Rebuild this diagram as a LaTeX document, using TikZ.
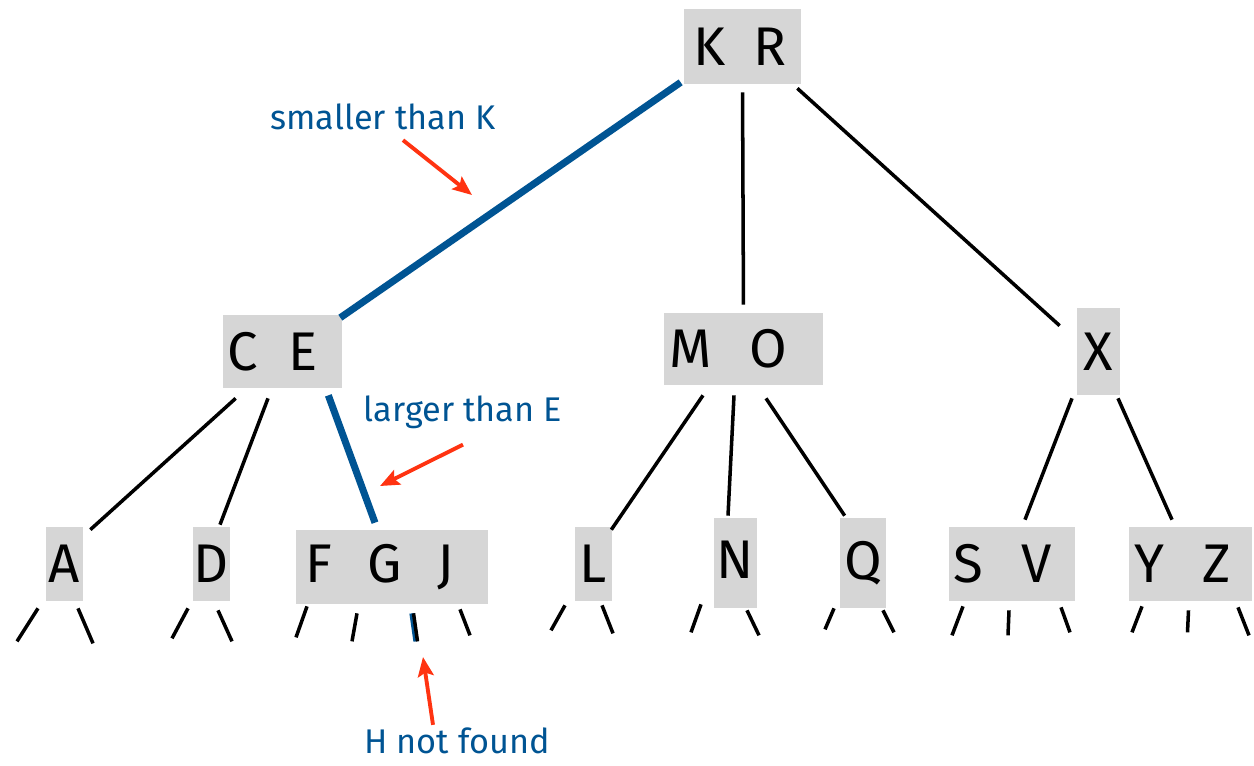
\documentclass[tikz,border=0pt]{standalone}
\usepackage{fontspec}
\setmainfont{Fira Sans}
\usetikzlibrary{calc}
\usetikzlibrary{arrows.meta}
\usepackage{xcolor}
\definecolor{boxgray}{RGB}{214,214,214}
\definecolor{pathblue}{RGB}{0,84,147}
\definecolor{notered}{RGB}{255,51,17}
\newcommand{\trail}[1]{\hspace{#1}\null}
\tikzset{
 keybox/.style={fill=boxgray, inner sep=0pt, font=\fontsize{31}{34}\selectfont},
 leafbox/.style={keybox, minimum width=0.74cm, minimum height=1.48cm},
 link/.style={black, line width=2pt},
 searchlink/.style={pathblue, line width=4pt},
 note/.style={pathblue, inner sep=1pt, font=\fontsize{19.5}{22}\selectfont},
 pointer/.style={notered, line width=2.2pt, -{Stealth[length=11pt,width=9pt,inset=2pt]}}
}

\begin{document}
\begin{tikzpicture}[x=0.02cm, y=-0.02cm]
\useasboundingbox (0,0) rectangle (1254,765);
% root and inner nodes
\node[keybox, minimum width=2.34cm, minimum height=1.5cm] (kr) at (742.5,46.5) {K\hspace{0.5em}R\trail{0.1cm}};
\node[keybox, minimum width=2.38cm, minimum height=1.46cm] (ce) at (282.5,351.5) {C\hspace{0.55em}E\trail{0.4cm}};
\node[keybox, minimum width=3.18cm, minimum height=1.44cm] (mo) at (743.5,349) {M\hspace{0.7em}O\trail{0.6cm}};
\node[keybox, minimum width=0.86cm, minimum height=1.74cm] (x) at (1098.5,351.5) {X};
% leaves
\node[leafbox] (a) at (64.5,564) {A};
\node[leafbox] (d) at (211.5,564) {D};
\node[keybox, minimum width=3.84cm, minimum height=1.48cm] (fgj) at (392,567) {F\hspace{0.65em}G\hspace{0.65em}J\trail{0.48cm}};
\node[leafbox] (l) at (593.5,564) {L};
\node[keybox, minimum width=0.86cm, minimum height=1.8cm] (n) at (735.5,563) {\raisebox{0.14cm}{N}};
\node[keybox, minimum width=0.92cm, minimum height=1.8cm] (q) at (863,563) {Q};
\node[keybox, minimum width=2.52cm, minimum height=1.48cm] (sv) at (1012,564) {S\hspace{0.7em}V\trail{0.36cm}};
\node[keybox, minimum width=2.46cm, minimum height=1.48cm] (yz) at (1190.5,564) {Y\hspace{0.7em}Z\trail{0.3cm}};

% tree links
\draw[searchlink] ($(kr.south west)+(-3,-2)$) -- ($(ce.north east)+(-2,3)$);
\draw[link, shorten <=8*0.02cm, shorten >=8*0.02cm] (kr.south) -- (mo.north);
\draw[link] ($(kr.south east)+(-4,4)$) -- ($(x.north west)+(-17,18)$);
\draw[link] ($(ce.south west)+(13,10)$) -- ($(a.north east)+(7,3)$);
\draw[link] ($(ce.south)+(-14.5,10)$) -- ($(d.north)+(8.5,-2)$);
\draw[searchlink] ($(ce.south east)+(-14,7)$) -- ($(fgj.north)+(-17,-7)$);
\draw[link] ($(mo.south)+(-40.5,10)$) -- ($(l.north east)+(-1,3)$);
\draw[link] ($(mo.south)+(-9.5,10)$) -- ($(n.north)+(-7.5,-2)$);
\draw[link] ($(mo.south)+(22.5,13)$) -- ($(q.north west)+(5,-2)$);
\draw[link] ($(x.south)+(-26.5,3)$) -- ($(sv.north)+(13,-7)$);
\draw[link] ($(x.south)+(19.5,3)$) -- ($(yz.north)+(-18.5,-7)$);

% empty subtrees
\foreach \nd/\sx/\sy/\dx/\dy in {a/-26.5/7/-21/33, a/13.5/7/15/35,
  d/-23.5/7/-16/30, d/6.5/9/14/31,
  fgj/-85/2/-11/31, fgj/-35/9/-5/28, fgj/68/5/10/26,
  l/-28.5/4/-14/25, l/8.5/4/11/28,
  n/-34.5/-4/-10/28, n/11.5/2/12/25,
  q/-29/0/-9/21, q/20/2/11/22,
  sv/-49/5/-11/29, sv/-3/9/-1/25, sv/49/6/9/25,
  yz/-48.5/5/-10/26, yz/-2/9/-1/22, yz/47.5/6/11/28} {
 \draw[link] ($(\nd.south)+(\sx,\sy)$) --++(\dx,\dy);
}
\draw[pathblue, line width=3pt] ($(fgj.south)+(20,9)$) --++(4,28);
\draw[link] ($(fgj.south)+(21.5,9)$) --++(4,28);

% search notes
\node[note] (lblk) at (383,117) {smaller than K};
\node[note] (lble) at (463,412) {larger than E};
\node[note] (lblh) at (457,741) {H not found};
\coordinate (kpoint) at (472,195);
\coordinate (epoint) at (380,486);
\coordinate (hpoint) at (423,657);
\draw[pointer] ($(lblk.south)+(20,8)$) -- (kpoint);
\draw[pointer] ($(lble.south)+(0,14)$) -- (epoint);
\draw[pointer] ($(lblh.north)+(-24,-1)$) -- (hpoint);
\end{tikzpicture}
\end{document}
